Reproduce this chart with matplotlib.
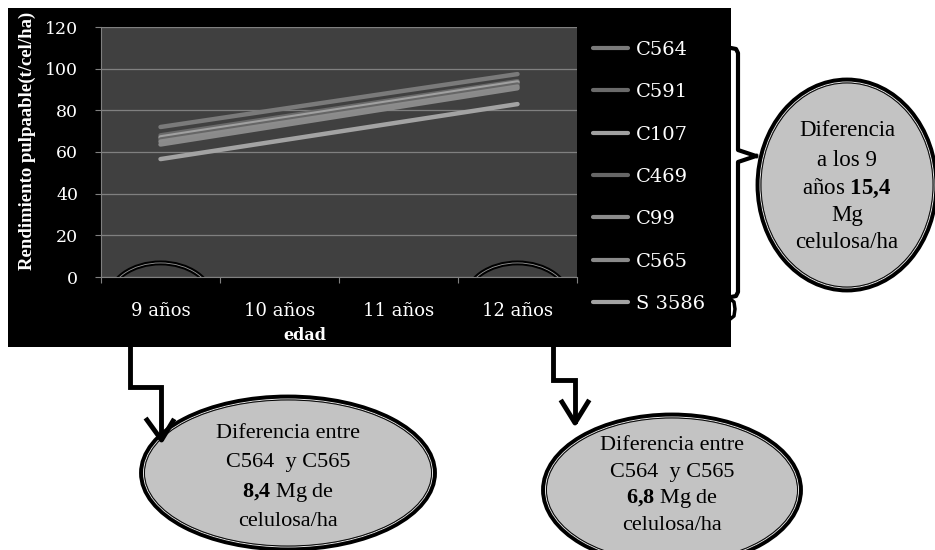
import matplotlib
matplotlib.use('Agg')
import matplotlib.pyplot as plt
from matplotlib.patches import Ellipse, Rectangle
from matplotlib.lines import Line2D

params = {
    'font.family': 'DejaVu Serif',
    'mathtext.fontset': 'custom',
    'mathtext.rm': 'Liberation Serif',
    'mathtext.bf': 'Liberation Serif:bold',
}
plt.rcParams.update(params)

#%% data
edad = ['9 años', '10 años', '11 años', '12 años']
clones = ['C564', 'C591', 'C107', 'C469', 'C99', 'C565', 'S 3586']
C564 = [72.0, 80.5, 89.0, 97.4]
C591 = [68.0, 76.7, 85.4, 94.0]
C107 = [67.0, 75.8, 84.6, 93.4]
C469 = [66.0, 74.8, 83.6, 92.4]
C99 = [65.0, 73.8, 82.6, 91.4]
C565 = [63.6, 72.6, 81.6, 90.6]
S3586 = [56.6, 65.4, 74.2, 83.0]
series = [C564, C591, C107, C469, C99, C565, S3586]
colores = ['#7a7a7a', '#6a6a6a', '#a0a0a0', '#666666', '#8c8c8c', '#8a8a8a', '#a3a3a3']

W, H = 935, 550
fig = plt.figure(figsize=(W / 100, H / 100), dpi=100)
fig.patch.set_facecolor('white')

# fondo negro del grafico
bg = fig.add_axes([0, 0, 1, 1], zorder=0)
bg.set_xlim(0, W)
bg.set_ylim(H, 0)
bg.axis('off')
bg.add_patch(Rectangle((8, 8), 723, 339, facecolor='black', edgecolor='none'))

#%% grafico de lineas
ax = fig.add_axes([101 / W, 1 - 277 / H, 476 / W, 250 / H], zorder=1)
ax.set_facecolor('#404040')
x = list(range(len(edad)))
for nombre, vals, c in zip(clones, series, colores):
    ax.plot(x, vals, color=c, lw=3.2, solid_capstyle='round', label=nombre)

ax.set_xlim(-0.5, 3.5)
ax.set_ylim(0, 120)
ax.set_yticks(range(0, 121, 20))
ax.grid(axis='y', color='#808080', lw=0.9)
ax.set_axisbelow(True)
for s in ['top', 'right']:
    ax.spines[s].set_visible(False)
ax.spines['left'].set_color('#808080')
ax.spines['bottom'].set_color('#808080')
ax.tick_params(axis='y', colors='#808080', labelcolor='white', labelsize=12.5,
               length=4.5, pad=12)
ax.set_xticks([-0.5, 0.5, 1.5, 2.5, 3.5])
ax.set_xticklabels([])
ax.set_xticks(x, minor=True)
ax.set_xticklabels(edad, minor=True)
ax.tick_params(axis='x', which='major', colors='#808080', length=4.5)
ax.tick_params(axis='x', which='minor', length=0, labelcolor='white',
               labelsize=13, pad=18)

# circulos sobre 9 y 12 años
for xc in [0, 3]:
    ax.add_patch(Ellipse((xc, -11), 0.87, 35.5, fill=False, ec='black', lw=3.5))
    ax.add_patch(Ellipse((xc, -11), 0.87, 35.5, fill=False, ec='#9a9a9a', lw=0.6))

fig.text(27 / W, 1 - 141 / H, 'Rendimiento pulpaable(t/cel/ha)', rotation=90,
         ha='center', va='center', color='white', fontsize=13.5,
         family='Liberation Serif', weight='bold')
fig.text(305 / W, 1 - 336 / H, 'edad', ha='center', va='center', color='white',
         fontsize=11.5, weight='bold')

handles = [Line2D([], [], color=c, lw=3, solid_capstyle='round') for c in colores]
leg = ax.legend(handles, clones, loc='upper left', bbox_to_anchor=(593 / W, 1 - 41 / H),
                bbox_transform=fig.transFigure, frameon=False, fontsize=14,
                labelcolor='white', handlelength=1.8, handletextpad=0.4,
                labelspacing=1.25, borderpad=0, borderaxespad=0)

#%% flechas, llave y elipses
ov = fig.add_axes([0, 0, 1, 1], zorder=2)
ov.set_xlim(0, W)
ov.set_ylim(H, 0)
ov.axis('off')
ov.patch.set_alpha(0)

ov.plot([130, 130, 161, 161], [347, 387, 387, 438], color='black', lw=3.5,
        solid_joinstyle='miter')
ov.plot([147, 161.5, 173], [420, 440, 421], color='black', lw=3.5)
ov.plot([553, 553, 575, 575], [347, 380, 380, 421], color='black', lw=3.5,
        solid_joinstyle='miter')
ov.plot([562, 575, 588], [402, 423, 402], color='black', lw=3.5)

# llave
ov.plot([731, 736, 738, 738, 756], [48, 49, 53, 150, 156], color='black', lw=3,
        solid_joinstyle='round')
ov.plot([756, 738, 738, 736, 731], [156, 162, 292, 296, 297], color='black', lw=3,
        solid_joinstyle='round')
ov.plot([729, 734, 735, 734, 729], [298, 302, 309, 316, 320], color='black', lw=2.5)


def globo(xc, yc, w, h):
    ov.add_patch(Ellipse((xc, yc), w, h, fc='#c3c3c3', ec='black', lw=3.5))
    ov.add_patch(Ellipse((xc, yc), w - 4, h - 4, fill=False, ec='#e8e8e8', lw=0.7))
    ov.add_patch(Ellipse((xc, yc), w - 6, h - 6, fill=False, ec='black', lw=0.7))


globo(847, 185, 178, 210)
globo(288, 473, 293, 152)
globo(672, 490, 257, 150)

txt = dict(ha='center', va='center', family='Liberation Serif', color='black')
for yy, s in zip([130, 160, 188, 216, 243],
                 ['Diferencia', 'a los 9', 'años $\\mathbf{15{,}4}$', 'Mg', 'celulosa/ha']):
    ov.text(847, yy, s, fontsize=16.5, **txt)
for yy, s in zip([433, 462, 492, 522],
                 ['Diferencia entre', 'C564  y C565', '$\\mathbf{8{,}4}$ Mg de', 'celulosa/ha']):
    ov.text(288, yy, s, fontsize=16, **txt)
for yy, s in zip([446, 472, 499, 525],
                 ['Diferencia entre', 'C564  y C565', '$\\mathbf{6{,}8}$ Mg de', 'celulosa/ha']):
    ov.text(672, yy, s, fontsize=16, **txt)

fig.savefig('out.png', dpi=100)
